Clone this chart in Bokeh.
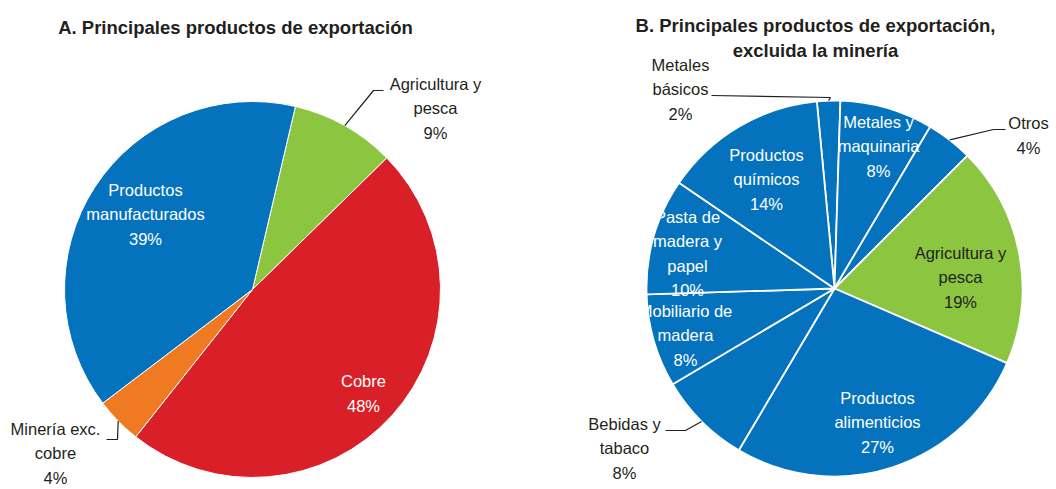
import numpy as np
from bokeh.plotting import figure
from bokeh.models import Range1d, ColumnDataSource
from bokeh.embed import file_html
from bokeh.resources import INLINE
from bokeh.core.properties import value

# ---------------- data ----------------
a_title = "A. Principales productos de exportación"
a_labels = ["Agricultura y\npesca", "Cobre", "Minería exc.\ncobre", "Productos\nmanufacturados"]
a_values = [9, 48, 4, 39]
a_colors = ["#8CC540", "#D91F27", "#F07A21", "#0572BE"]

b_title = "B. Principales productos de exportación,\nexcluida la minería"
b_labels = ["Metales\nbásicos", "Metales y\nmaquinaria", "Otros", "Agricultura y\npesca",
            "Productos\nalimenticios", "Bebidas y\ntabaco", "Mobiliario de\nmadera",
            "Pasta de\nmadera y\npapel", "Productos\nquímicos"]
b_values = [2, 8, 4, 19, 27, 8, 8, 10, 14]
b_colors = ["#0572BE", "#0572BE", "#0572BE", "#8CC540", "#0572BE", "#0572BE", "#0572BE",
            "#0572BE", "#0572BE"]

# ---------------- layout ----------------
W, H = 1056, 489
FONT = "Liberation Sans"
DARK = "#231F20"

p = figure(width=W, height=H, output_backend="svg", toolbar_location=None,
           x_range=Range1d(0, W), y_range=Range1d(-H, 0),
           min_border=0, outline_line_color=None, background_fill_color="white")
p.axis.visible = False
p.xgrid.visible = False
p.ygrid.visible = False

# per-pie layout: center (screen px), radius, start angle (deg clockwise from 12 o'clock)
pies = [
    dict(labels=a_labels, values=a_values, colors=a_colors, cx=252, cy=289, r=188,
         start=13.2, sep=1.0,
         pos=[(183, -181), (111, 104), (-197, 164), (-107, -75)],
         tcol=[DARK, "white", DARK, "white"],
         lead={0: [(121, -199), (131, -199)], 2: [(-135, 150), (-146, 150)]}),
    dict(labels=b_labels, values=b_values, colors=b_colors, cx=834, cy=288, r=188,
         start=-5.4, sep=1.8,
         pos=[(-154, -199), (44, -142), (194, -153), (126, -11), (43, 134),
              (-210, 160), (-149, 47), (-147, -35), (-68, -109)],
         tcol=[DARK, "white", DARK, DARK, "white", DARK, "white", "white", "white"],
         lead={0: [(-4, -191), (-123, -193)], 2: [(159, -159), (171, -159)],
               5: [(-149, 142), (-169, 142)]}),
]

for pie in pies:
    vals = np.array(pie["values"], dtype=float)
    frac = vals / vals.sum() * 360.0
    cum_end = pie["start"] + np.cumsum(frac)
    cum_start = cum_end - frac
    mids = (cum_start + cum_end) / 2
    src = ColumnDataSource(dict(
        start=np.radians(90 - cum_start), end=np.radians(90 - cum_end),
        color=pie["colors"]))
    p.wedge(x=pie["cx"], y=-pie["cy"], radius=pie["r"], start_angle="start",
            end_angle="end", direction="clock", fill_color="color",
            line_color="white", line_width=pie["sep"], source=src)

    # labels
    tx, ty, tt, tc = [], [], [], []
    for i, (lab, v) in enumerate(zip(pie["labels"], pie["values"])):
        dx, dy = pie["pos"][i]
        tx.append(pie["cx"] + dx)
        ty.append(-(pie["cy"] + dy))
        tt.append(f"{lab}\n{v}%")
        tc.append(pie["tcol"][i])
    p.text(x=tx, y=ty, text=tt, text_color=tc, text_font=value(FONT),
           text_font_size="16.5px", text_align="center", text_baseline="middle",
           text_line_height=1.36)

    # leader lines
    xs, ys = [], []
    for i, pts in pie["lead"].items():
        th = np.radians(mids[i])
        x0 = pie["cx"] + pie["r"] * np.sin(th)
        y0 = pie["cy"] - pie["r"] * np.cos(th)
        xs.append([x0] + [pie["cx"] + a for a, b in pts])
        ys.append([-y0] + [-(pie["cy"] + b) for a, b in pts])
    p.multi_line(xs=xs, ys=ys, line_color=DARK, line_width=1.2)

# titles
p.text(x=[235, 815], y=[-27, -37.5], text=[a_title, b_title], text_color=DARK,
       text_font=value(FONT), text_font_style="bold", text_font_size="18.5px",
       text_align="center", text_baseline="middle", text_line_height=1.15)

open("out.html", "w").write(file_html(p, INLINE))
